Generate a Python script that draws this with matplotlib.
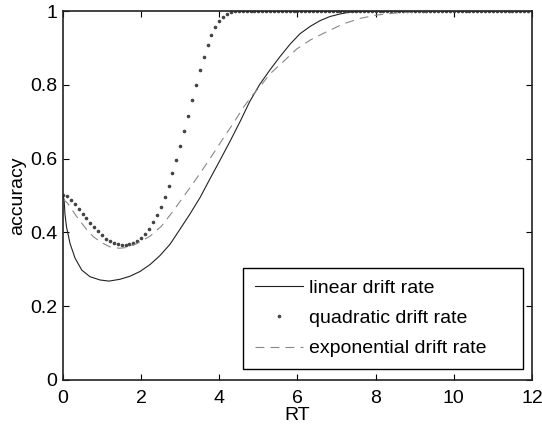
import numpy as np
import matplotlib.pyplot as plt

plt.rcParams['font.family'] = ['Liberation Sans', 'DejaVu Sans']

# linear drift rate
rt_lin = [0.0, 0.03, 0.05, 0.09, 0.18, 0.31, 0.48, 0.69, 0.95, 1.18, 1.46, 1.71,
          1.97, 2.23, 2.48, 2.74, 2.99, 3.25, 3.51, 3.76, 4.02, 4.27, 4.53, 4.78,
          5.04, 5.30, 5.55, 5.81, 6.06, 6.32, 6.58, 6.83, 7.09, 7.34, 7.7, 8.5, 12.0]
acc_lin = [0.50, 0.488, 0.45, 0.415, 0.370, 0.330, 0.298, 0.280, 0.271, 0.268, 0.273, 0.281,
           0.294, 0.313, 0.337, 0.368, 0.408, 0.450, 0.495, 0.545, 0.596, 0.646, 0.700, 0.755,
           0.802, 0.841, 0.876, 0.910, 0.938, 0.958, 0.974, 0.985, 0.992, 0.997, 0.999, 1.0, 1.0]

# exponential drift rate
rt_exp = [0.0, 0.11, 0.35, 0.61, 0.78, 0.99, 1.20, 1.44, 1.63, 1.88, 2.23, 2.52,
          2.82, 3.33, 3.59, 3.85, 4.10, 4.36, 4.61, 4.85, 5.04, 5.30, 5.68, 5.98,
          6.32, 6.75, 7.17, 7.60, 8.03, 8.54, 9.05, 9.56, 10.5, 12.0]
acc_exp = [0.49, 0.480, 0.443, 0.407, 0.388, 0.372, 0.361, 0.357, 0.359, 0.369, 0.390, 0.417,
           0.458, 0.533, 0.573, 0.614, 0.655, 0.696, 0.738, 0.772, 0.795, 0.830, 0.867, 0.897,
           0.921, 0.944, 0.965, 0.980, 0.989, 0.995, 0.998, 0.999, 1.0, 1.0]

# quadratic drift rate, sampled every 0.1
rt_quad = np.round(np.arange(0, 12.05, 0.1), 1)
acc_quad = [0.500, 0.499, 0.488, 0.477, 0.464, 0.451, 0.439, 0.426, 0.415, 0.405,
            0.393, 0.383, 0.376, 0.371, 0.368, 0.366, 0.366, 0.368, 0.370, 0.377,
            0.385, 0.396, 0.410, 0.427, 0.447, 0.470, 0.497, 0.527, 0.560, 0.596,
            0.634, 0.675, 0.716, 0.759, 0.800, 0.839, 0.875, 0.908, 0.935, 0.957,
            0.973, 0.985, 0.992, 0.997, 0.999] + [1.0] * 76

fig = plt.figure(figsize=(5.42, 4.30), dpi=100)
ax = fig.add_axes([0.1162, 0.1163, 0.8653, 0.8581])

ax.plot(rt_lin, acc_lin, '-', color='#222222', lw=0.8, label='linear drift rate')
ax.plot(rt_quad, acc_quad, '.', color='#444444', ms=3.2, label='quadratic drift rate')
ax.plot(rt_exp, acc_exp, '--', color='#888888', lw=0.8, dashes=(8, 5.5),
        label='exponential drift rate')

ax.set_xlim(0, 12)
ax.set_ylim(0, 1)
ax.set_xticks([0, 2, 4, 6, 8, 10, 12])
ax.set_xticklabels(['0', '2', '4', '6', '8', '10', '12'])
ax.set_yticks([0, 0.2, 0.4, 0.6, 0.8, 1])
ax.set_yticklabels(['0', '0.2', '0.4', '0.6', '0.8', '1'])
ax.tick_params(direction='in', top=True, right=True, length=4, width=0.8,
               labelsize=14)
ax.tick_params(axis='x', pad=7)
ax.tick_params(axis='y', pad=4)
for s in ax.spines.values():
    s.set_linewidth(1.2)
    s.set_color('#222222')

ax.set_xlabel('RT', fontsize=14, labelpad=0)
ax.set_ylabel('accuracy', fontsize=14, labelpad=3)

leg = ax.legend(loc='lower left', bbox_to_anchor=(0.3838, 0.0298, 0.597, 0.29),
                mode='expand', fontsize=14, fancybox=False, framealpha=1,
                edgecolor='black', handlelength=2.5, borderpad=0.6,
                labelspacing=0.65, handletextpad=0.3, borderaxespad=0)
leg.get_frame().set_linewidth(1.0)

fig.savefig('out.png', dpi=100)
